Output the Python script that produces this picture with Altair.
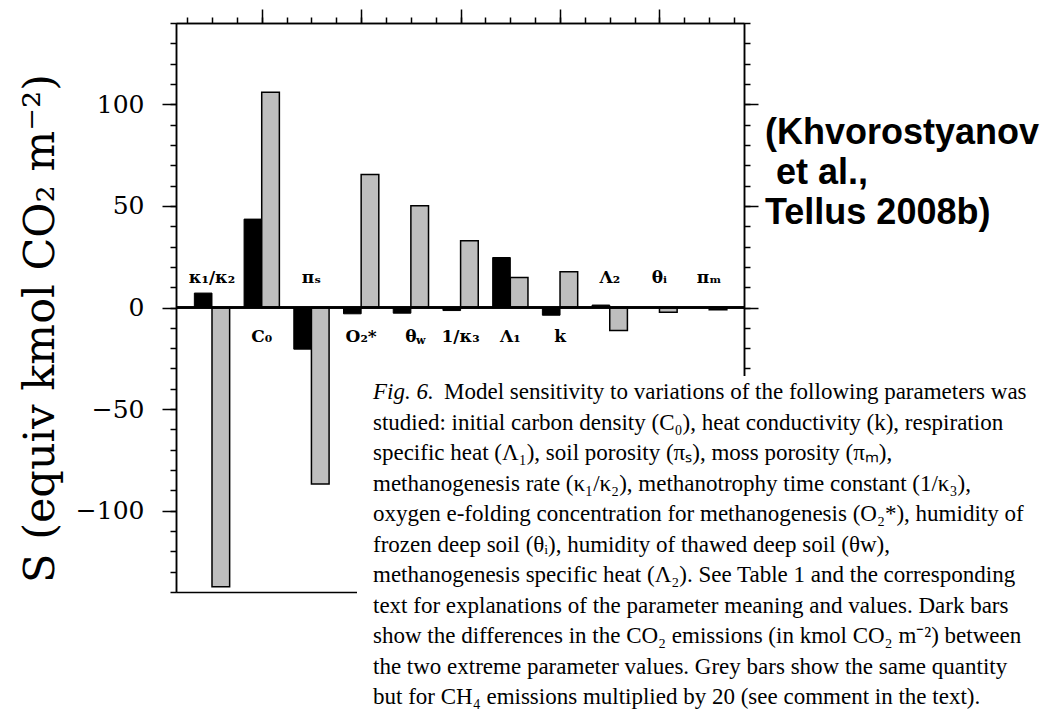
import altair as alt
import pandas as pd

# ---- data ----
params = ["κ₁/κ₂", "C₀", "πₛ", "O₂*", "θ", "1/κ₃", "Λ₁", "k", "Λ₂", "θᵢ", "πₘ"]
sub_extra = ["", "", "", "", "w", "", "", "", "", "", ""]
label_side = ["above", "below", "above", "below", "below", "below", "below", "below", "above", "above", "above"]
co2_diff = [7.1, 43.5, -20.5, -3.1, -2.8, -1.5, 24.6, -3.8, 1.2, 0.0, 0.0]
ch4_x20 = [-137.4, 105.9, -86.8, 65.4, 50.1, 32.9, 14.8, 17.6, -11.3, -2.3, -1.1]

y_major = [-100, -50, 0, 50, 100]
y_minor = list(range(-140, 141, 10))
x_minor = [i * 0.5 for i in range(1, 24)]
x_major = [2, 4, 6, 8, 10]

y_title = "S (equiv kmol CO₂ m⁻²)"
citation = ["(Khvorostyanov", "et al.,", "Tellus 2008b)"]
caption_first = "Model sensitivity to variations of the following parameters was"
caption_lines = [
    "studied: initial carbon density (C₀), heat conductivity (k), respiration",
    "specific heat (Λ₁), soil porosity (πₛ), moss porosity (πₘ),",
    "methanogenesis rate (κ₁/κ₂), methanotrophy time constant (1/κ₃),",
    "oxygen e-folding concentration for methanogenesis (O₂*), humidity of",
    "frozen deep soil (θᵢ), humidity of thawed deep soil (θw),",
    "methanogenesis specific heat (Λ₂). See Table 1 and the corresponding",
    "text for explanations of the parameter meaning and values. Dark bars",
    "show the differences in the CO₂ emissions (in kmol CO₂ m⁻²) between",
    "the two extreme parameter values. Grey bars show the same quantity",
    "but for CH₄ emissions multiplied by 20 (see comment in the text).",
]

df = pd.DataFrame({
    "param": params, "sub": sub_extra, "side": label_side,
    "co2": co2_diff, "ch4": ch4_x20,
})
df["pos"] = list(range(1, len(params) + 1))

BW = 0.355
XDOM = [0.276, 11.70]
YDOM = [-140, 140]
W, H = 568, 569
OX, OY = 176, 23  # page position of plot origin
CAP_TOP, CAP_LH, CAP_FS = 381, 30.5, 23


def xs():
    return alt.Scale(domain=XDOM, nice=False, zero=False)


def ys():
    return alt.Scale(domain=YDOM, nice=False, zero=False)


def ax(**kw):
    base = dict(domainColor="black", domainWidth=1.5, tickColor="black", tickWidth=1.5,
                grid=False, title=None, labels=False)
    base.update(kw)
    return alt.Axis(**base)


base = alt.Chart(df)

black = base.transform_calculate(x0=f"datum.pos - {BW}").mark_bar(
    color="black", stroke="black", strokeWidth=1
).encode(
    x=alt.X("x0:Q", scale=xs(), axis=ax(orient="top", values=x_minor, tickSize=6)),
    x2="pos:Q",
    y=alt.Y("co2:Q", scale=ys(), axis=ax(orient="left", values=y_minor, tickSize=6)),
    y2=alt.datum(0),
)

grey = base.transform_calculate(x1=f"datum.pos + {BW}").mark_bar(
    color="#bebebe", stroke="black", strokeWidth=1.5
).encode(
    x=alt.X("pos:Q", scale=xs(), axis=ax(orient="top", values=x_major, tickSize=14)),
    x2="x1:Q",
    y=alt.Y("ch4:Q", scale=ys(), axis=ax(
        orient="left", values=y_major, tickSize=14, labels=True,
        labelFont="DejaVu Serif", labelFontSize=25, labelColor="black", labelPadding=18,
        title=y_title, titleFont="DejaVu Serif", titleFontSize=43, titleFontWeight="normal",
        titleColor="black", titleAngle=270, titleAlign="center", titleBaseline="middle",
        titleX=40 - OX, titleY=328 - OY)),
    y2=alt.datum(0),
)

zero = base.mark_rule(color="black", strokeWidth=1.5).encode(
    y=alt.YDatum(0, scale=ys(), axis=ax(orient="right", values=y_minor, tickSize=6)),
)

labels = base.transform_calculate(
    ly="datum.side == 'above' ? 14.6 : -14.4"
).mark_text(font="DejaVu Serif", fontSize=17, fontWeight="bold", color="black",
            baseline="middle", align="center").encode(
    x=alt.X("pos:Q", scale=xs(), axis=ax(orient="bottom", ticks=False, values=x_major)),
    y=alt.Y("ly:Q", scale=ys(), axis=ax(orient="right", values=y_major, tickSize=14)),
    text="param:N",
)

subs = base.transform_filter("datum.sub != ''").transform_calculate(
    ly="datum.side == 'above' ? 14.6 : -14.4"
).mark_text(font="DejaVu Serif", fontSize=11, fontWeight="bold", color="black",
            baseline="middle", align="left", dx=5, dy=4).encode(
    x=alt.X("pos:Q", scale=xs(), axis=None),
    y=alt.Y("ly:Q", scale=ys(), axis=None),
    text="sub:N",
)

one = alt.Chart(pd.DataFrame({"k": [0]}))

cover = one.mark_rect(color="white").encode(
    x=alt.value(357 - OX), x2=alt.value(1060 - OX),
    y=alt.value(376 - OY), y2=alt.value(730 - OY),
)

cap_fig = one.mark_text(text="Fig. 6.", font="Liberation Serif", fontStyle="italic",
                        fontSize=CAP_FS, align="left", baseline="top", color="black").encode(
    x=alt.value(373 - OX), y=alt.value(CAP_TOP - OY))
cap_first = one.mark_text(text=caption_first, font="Liberation Serif",
                          fontSize=CAP_FS, align="left", baseline="top", color="black").encode(
    x=alt.value(444 - OX), y=alt.value(CAP_TOP - OY))
cap_rest = one.mark_text(text=caption_lines, font="Liberation Serif", lineHeight=CAP_LH,
                         fontSize=CAP_FS, align="left", baseline="top", color="black").encode(
    x=alt.value(373 - OX), y=alt.value(CAP_TOP + CAP_LH - OY))

cite_style = dict(font="Liberation Sans", fontWeight="bold", fontSize=36,
                  align="left", baseline="middle", color="black")
cite1 = one.mark_text(text=citation[0], **cite_style).encode(
    x=alt.value(765 - OX), y=alt.value(133 - OY))
cite2 = one.mark_text(text=citation[1], **cite_style).encode(
    x=alt.value(776 - OX), y=alt.value(173 - OY))
cite3 = one.mark_text(text=citation[2], **cite_style).encode(
    x=alt.value(765 - OX), y=alt.value(213 - OY))

chart = alt.layer(
    black, grey, zero, labels, subs, cover, cap_fig, cap_first, cap_rest, cite1, cite2, cite3
).resolve_scale(x="independent", y="independent").resolve_axis(
    x="independent", y="independent"
).properties(
    width=W, height=H,
    autosize=alt.AutoSizeParams(type="none"),
    padding={"left": OX - 8, "top": OY - 8, "right": 1035 - (OX - 8) - W, "bottom": 707 - (OY - 8) - H},
    background="white",
).configure_view(stroke=None)

chart.save("out.html", embed_options={"renderer": "svg", "actions": False})
